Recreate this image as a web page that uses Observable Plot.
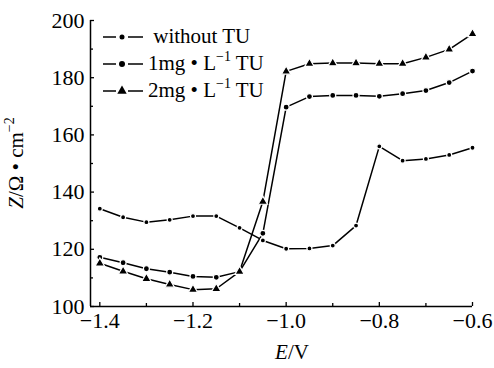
<!DOCTYPE html>
<html><head><meta charset="utf-8">
<script src="https://cdn.jsdelivr.net/npm/d3@7"></script>
<script src="https://cdn.jsdelivr.net/npm/@observablehq/plot@0.6"></script>
<style>
body{margin:0;background:#fff;}
#wrap{position:relative;width:494px;height:368px;font-family:"Liberation Serif","Times New Roman","DejaVu Serif",serif;color:#000;}
#legend{position:absolute;left:102px;top:23px;font-size:21px;line-height:27px;}
.row{display:flex;align-items:center;height:27px;white-space:nowrap;}
.row svg{margin-right:4px;}
sup{font-size:14px;line-height:0;position:relative;top:-1px;}
#ylab{position:absolute;left:16px;top:163px;transform:translate(-50%,-50%) rotate(-90deg);font-size:21px;white-space:nowrap;}
#xlab{position:absolute;left:292px;top:352px;transform:translate(-50%,-50%);font-size:21px;white-space:nowrap;}
</style></head>
<body><div id="wrap"></div>
<script>
const E = [-1.40,-1.35,-1.30,-1.25,-1.20,-1.15,-1.10,-1.05,-1.00,-0.95,-0.90,-0.85,-0.80,-0.75,-0.70,-0.65,-0.60];
const zWithout = [134.2,131.2,129.5,130.3,131.6,131.6,127.5,123.1,120.2,120.3,121.3,128.3,156.0,151.0,151.6,153.0,155.5];
const z1mg     = [117.2,115.3,113.2,112.0,110.5,110.2,112.2,125.6,169.7,173.4,173.8,173.8,173.5,174.4,175.5,178.3,182.3];
const z2mg     = [115.1,112.3,109.7,107.7,105.9,106.2,112.2,136.7,182.2,184.9,185.1,185.1,184.9,184.9,187.1,189.9,195.3];
const seriesNames = ["without TU","1mg • L⁻¹ TU","2mg • L⁻¹ TU"];
const xTicks = [-1.4,-1.2,-1.0,-0.8,-0.6];
const xMinor = [-1.3,-1.1,-0.9,-0.7];
const yTicks = [100,120,140,160,180,200];
const yMinor = [110,130,150,170,190];
const xDomain = [-1.42,-0.6];
const yDomain = [100,200];

const rows = (zs, s) => E.map((e,i)=>({E:e, Z:zs[i], s}));
const d0 = rows(zWithout, seriesNames[0]);
const d1 = rows(z1mg, seriesNames[1]);
const d2 = rows(z2mg, seriesNames[2]);
const all = [...d0,...d1,...d2];
const fmt = d3.format(".1f");

const chart = Plot.plot({
  width:494, height:368,
  marginLeft:90, marginRight:22, marginTop:20, marginBottom:62,
  x:{domain:xDomain}, y:{domain:yDomain},
  style:{fontFamily:"'Liberation Serif','Times New Roman','DejaVu Serif',serif", fontSize:"22px", color:"#000", background:"#fff", overflow:"visible"},
  marks:[
    Plot.ruleY([yDomain[0]], {stroke:"#000", strokeWidth:1.5}),
    Plot.ruleX([xDomain[0]], {stroke:"#000", strokeWidth:1.5}),
    Plot.axisX(xTicks, {tickSize:-4, tickPadding:10, tickFormat:fmt, label:null, strokeWidth:1.3}),
    Plot.axisX(xMinor, {tickSize:-3, tickFormat:()=>"", label:null, strokeWidth:1.3}),
    Plot.axisY(yTicks, {tickSize:-4, tickPadding:10, label:null, strokeWidth:1.3}),
    Plot.axisY(yMinor, {tickSize:-3, tickFormat:()=>"", label:null, strokeWidth:1.3}),
    Plot.line(all, {x:"E", y:"Z", z:"s", stroke:"#000", strokeWidth:1.5}),
    Plot.dot(d0, {x:"E", y:"Z", r:2.5, fill:"#000", stroke:"#fff", strokeWidth:1.2}),
    Plot.dot(d1, {x:"E", y:"Z", r:3.0, fill:"#000", stroke:"#fff", strokeWidth:1.2}),
    Plot.dot(d2, {x:"E", y:"Z", r:3.5, symbol:"triangle", fill:"#000", stroke:"#fff", strokeWidth:1.2})
  ]
});
const wrap = document.getElementById("wrap");
wrap.appendChild(chart);

function sample(kind){
  const r = kind==="tri" ? 3.5 : (kind==="big" ? 3.0 : 2.5);
  let m = kind==="tri"
    ? `<path d="${d3.symbol(d3.symbolTriangle, Math.PI*r*r)()}" transform="translate(20,7)" fill="#000"/>`
    : `<circle cx="20" cy="7" r="${r}" fill="#000"/>`;
  return `<svg width="42" height="14"><line x1="1" x2="14" y1="7" y2="7" stroke="#000" stroke-width="1.5"/><line x1="26" x2="41" y1="7" y2="7" stroke="#000" stroke-width="1.5"/>${m}</svg>`;
}
const leg = document.createElement("div");
leg.id = "legend";
const kinds = ["small","big","tri"];
const labelsHtml = [
  "&nbsp;without TU",
  "1mg • L<sup>−1</sup> TU",
  "2mg • L<sup>−1</sup> TU"
];
leg.innerHTML = kinds.map((k,i)=>`<div class="row">${sample(k)}<span>${labelsHtml[i]}</span></div>`).join("");
wrap.appendChild(leg);

const yl = document.createElement("div");
yl.id = "ylab";
yl.innerHTML = "<i>Z</i>/Ω • cm<sup>−2</sup>";
wrap.appendChild(yl);
const xl = document.createElement("div");
xl.id = "xlab";
xl.innerHTML = "<i>E</i>/V";
wrap.appendChild(xl);
</script>
</body></html>
